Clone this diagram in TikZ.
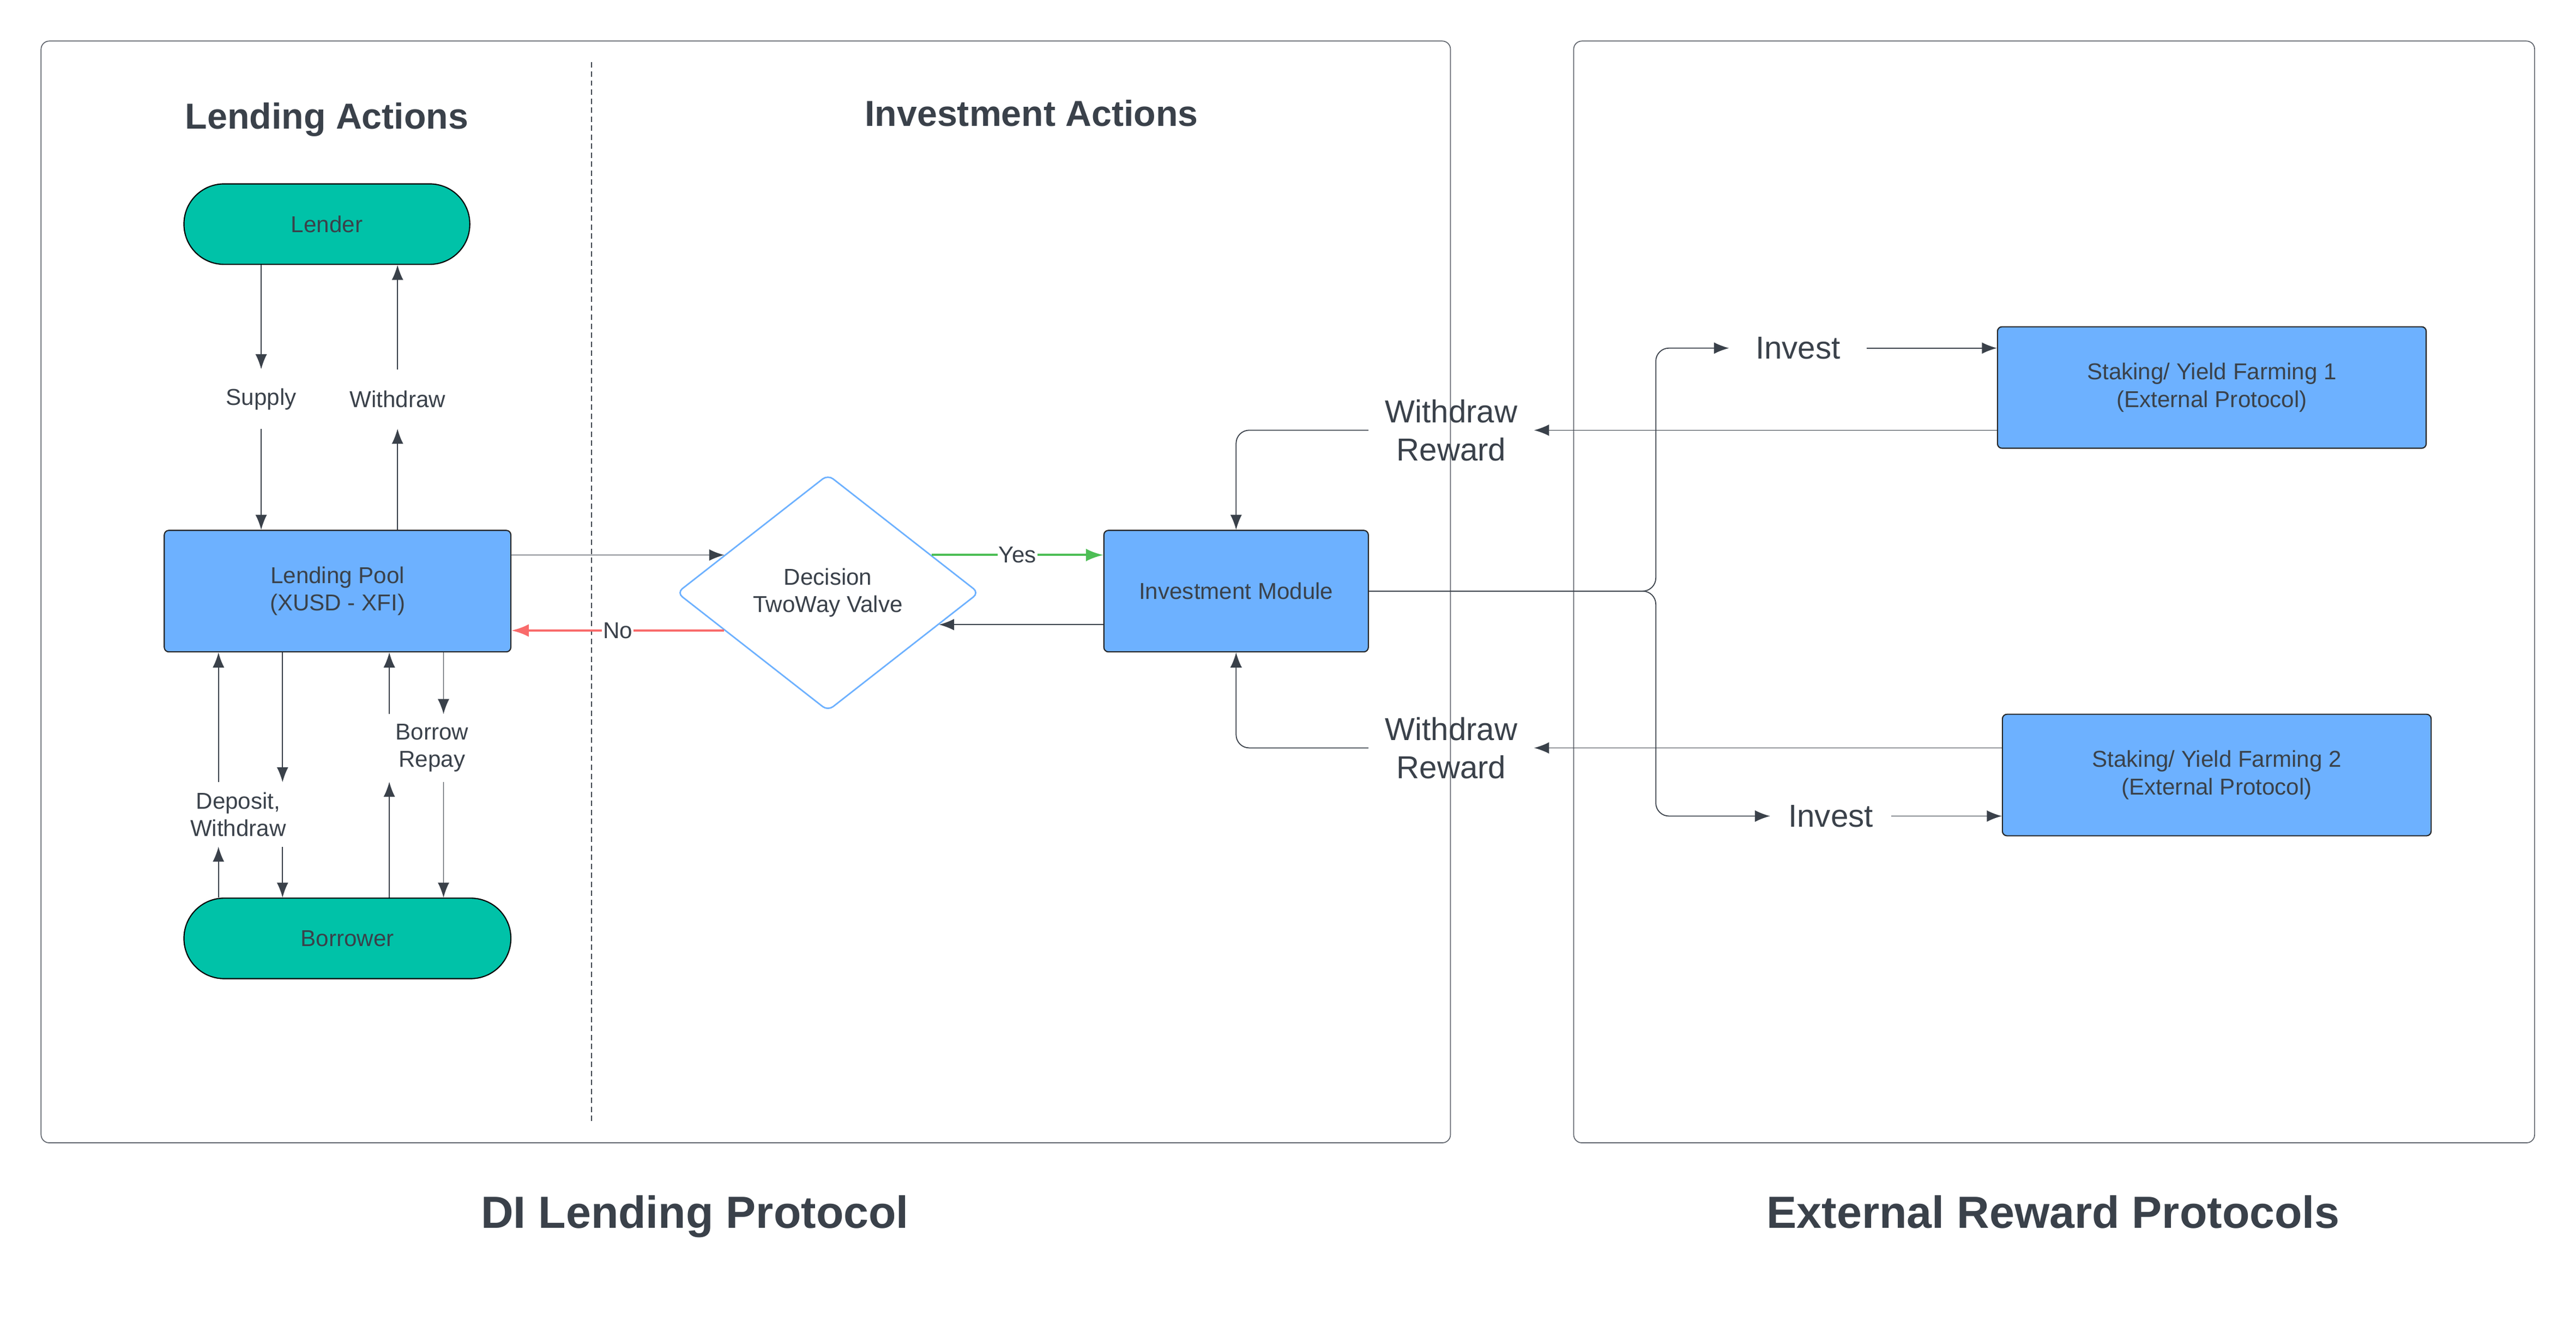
\documentclass[tikz,border=0pt]{standalone}
\usepackage{fontspec}
\setmainfont{Liberation Sans}
\usetikzlibrary{arrows.meta, positioning, shapes.geometric}
\definecolor{lucteal}{HTML}{00C2A8}
\definecolor{lucblue}{HTML}{6DB1FF}
\definecolor{lucink}{HTML}{3A414A}
\definecolor{lucred}{HTML}{F96B6B}
\definecolor{lucgreen}{HTML}{4DBE55}
\definecolor{lucframe}{HTML}{5F646C}

\begin{document}
\begin{tikzpicture}[
  x=0.5mm, y=-0.5mm,
  every node/.style={text=lucink, font=\fontsize{19.9}{23.9}\selectfont},
  actor/.style={rectangle, rounded corners=12.2mm, draw=black, line width=1pt, fill=lucteal, minimum width=#1, minimum height=24.5mm},
  procbox/.style={rectangle, rounded corners=1.4mm, draw=black!85, line width=1pt, fill=lucblue, minimum width=#1, minimum height=37mm, align=center},
  valve/.style={diamond, rounded corners=2mm, draw=lucblue, line width=1.3pt, fill=white, minimum width=92mm, minimum height=72mm, inner sep=0pt, align=center},
  stepnote/.style={align=center, inner sep=0pt, minimum height=#1},
  bignote/.style={font=\fontsize{27.5}{33}\selectfont, align=center, inner xsep=#1, inner ysep=0pt},
  flowtag/.style={fill=white, inner xsep=1pt, inner ysep=0pt},
  heading/.style={font=\fontsize{31.3}{37}\selectfont\bfseries, anchor=base},
  caption/.style={font=\fontsize{39}{46}\selectfont\bfseries, anchor=base},
  frame/.style={draw=lucframe, line width=0.8pt, rounded corners=2.5mm},
  arr/.style={-{Latex[length=13pt,width=10pt]}, draw=lucink, line width=0.85pt},
]
\useasboundingbox (0,0) rectangle (1568.2,804.5);

% Frames
\draw[frame] (25,25) rectangle (883,696);
\draw[frame] (958,25) rectangle (1543,696);
\draw[lucink, line width=0.8pt, dash pattern=on 4.7pt off 3.1pt] (360,38) -- (360,684);

% Titles
\node[heading] (lendtitle) at (199,78.5) {Lending Actions};
\node[heading] (invtitle) at (628,77) {Investment Actions};
\node[caption] (dititle) at (423,748) {DI Lending Protocol};
\node[caption] (exttitle) at (1250,748) {External Reward Protocols};

% Lending side
\node[actor=87mm] (lender) at (199,136.5) {Lender};
\node[procbox=105.5mm] (pool) at (205.5,360) {Lending Pool\\(XUSD - XFI)};
\node[actor=99.5mm] (borrower) at (211.5,571.5) {Borrower};

% Investment side
\node[valve] (valve) at (504,361) {Decision\\TwoWay Valve};
\node[procbox=80.5mm] (invmod) at (752.5,360) {Investment Module};

% External protocols
\node[procbox=130.5mm] (farm1) at (1346.5,236) {Staking/ Yield Farming 1\\(External Protocol)};
\node[procbox=130.5mm] (farm2) at (1349.5,472) {Staking/ Yield Farming 2\\(External Protocol)};

% Edge labels
\node[stepnote=18mm] (supply) at (159,243) {Supply};
\node[stepnote=18mm] (wdraw) at (242,243) {Withdraw};
\node[stepnote=19.5mm] (depwd) at (145,496) {Deposit,\\Withdraw};
\node[stepnote=20.5mm] (borrep) at (263,455.5) {Borrow\\Repay};
\node[bignote=5mm] (reward1) at (883.5,262) {Withdraw\\Reward};
\node[bignote=5mm] (reward2) at (883.5,455.5) {Withdraw\\Reward};
\node[bignote=8mm] (invest1) at (1094.5,212) {Invest};
\node[bignote=5.5mm] (invest2) at (1114.5,497) {Invest};

\coordinate (dwUp) at (133,0);
\coordinate (dwDn) at (172,0);
\coordinate (brUp) at (237,0);
\coordinate (brDn) at (270,0);
\coordinate (split) at (1008,360);

% Lender <-> pool
\draw[arr] (lender.south -| supply) -- (supply.north);
\draw[arr] (supply.south) -- (pool.north -| supply);
\draw[arr] (pool.north -| wdraw) -- (wdraw.south);
\draw[arr] (wdraw.north) -- (lender.south -| wdraw);

% Borrower <-> pool
\draw[arr] (borrower.north -| dwUp) -- (depwd.south -| dwUp);
\draw[arr] (depwd.north -| dwUp) -- (pool.south -| dwUp);
\draw[arr] (pool.south -| dwDn) -- (depwd.north -| dwDn);
\draw[arr] (depwd.south -| dwDn) -- (borrower.north -| dwDn);
\draw[arr] (borrower.north -| brUp) -- (borrep.south -| brUp);
\draw[arr] (borrep.north -| brUp) -- (pool.south -| brUp);
\draw[arr] (pool.south -| brDn) -- (borrep.north -| brDn);
\draw[arr] (borrep.south -| brDn) -- (borrower.north -| brDn);

% Decision valve
\draw[arr] (valve.160 -| pool.east) -- (valve.160);
\draw[arr, draw=lucred, line width=1.9pt, -{Latex[length=15pt,width=11pt]}] (valve.200) -- node[flowtag] {No} (valve.200 -| pool.east);
\draw[arr, draw=lucgreen, line width=1.9pt, -{Latex[length=15pt,width=11pt]}] (valve.20) -- node[flowtag] {Yes} (valve.20 -| invmod.west);
\draw[arr] (valve.344 -| invmod.west) -- (valve.344);

% Rewards back to the module
\draw[arr] (reward1.east -| farm1.west) -- (reward1.east);
\draw[arr, rounded corners=4mm] (reward1.west) -| (invmod.north);
\draw[arr] (reward2.east -| farm2.west) -- (reward2.east);
\draw[arr, rounded corners=4mm] (reward2.west) -| (invmod.south);

% Invest out
\draw[arr, rounded corners=4mm] (invmod.east) -- (split) |- (invest1.west);
\draw[arr, rounded corners=4mm] (invmod.east) -- (split) |- (invest2.west);
\draw[arr] (invest1.east) -- (invest1.east -| farm1.west);
\draw[arr] (invest2.east) -- (invest2.east -| farm2.west);

\end{tikzpicture}
\end{document}
